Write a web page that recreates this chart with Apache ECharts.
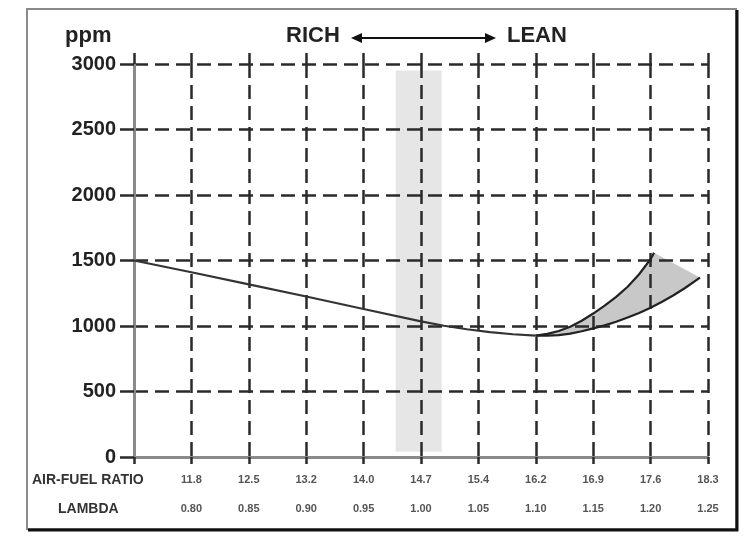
<!DOCTYPE html>
<html><head><meta charset="utf-8">
<script src="https://cdn.jsdelivr.net/npm/echarts@6/dist/echarts.min.js"></script>
<style>html,body{margin:0;padding:0;background:#fff}#c{width:750px;height:550px}</style>
</head><body><div id="c"></div>
<script>
// Tick labels
const lambdaTicks = [0.80, 0.85, 0.90, 0.95, 1.00, 1.05, 1.10, 1.15, 1.20, 1.25];
const afrLabels = ['11.8', '12.5', '13.2', '14.0', '14.7', '15.4', '16.2', '16.9', '17.6', '18.3'];
const lambdaLabels = ['0.80', '0.85', '0.90', '0.95', '1.00', '1.05', '1.10', '1.15', '1.20', '1.25'];
const yTicks = [0, 500, 1000, 1500, 2000, 2500, 3000];

// Series (lambda, ppm)
const mainLine = [[0.75, 1500], [0.80, 1410], [0.85, 1318], [0.90, 1225], [0.95, 1130], [1.00, 1035], [1.02, 1002], [1.04, 975], [1.06, 953], [1.08, 937], [1.10, 926]];
const upperBranch = [[1.10, 926], [1.11, 940], [1.12, 962], [1.13, 995], [1.14, 1040], [1.15, 1095], [1.16, 1155], [1.17, 1222], [1.18, 1300], [1.19, 1395], [1.20, 1510], [1.203, 1560]];
const lowerBranch = [[1.10, 926], [1.11, 926], [1.12, 930], [1.13, 942], [1.14, 960], [1.15, 982], [1.16, 1005], [1.17, 1033], [1.18, 1065], [1.19, 1100], [1.20, 1140], [1.21, 1185], [1.22, 1235], [1.23, 1290], [1.243, 1370]];
const stoichBand = [0.978, 1.018];
const bandPpm = [40, 2950];

const FONT = '"Liberation Sans", Arial, sans-serif';
const dash = { type: [14, 7], color: '#2a2a2a', width: 2.5 };

const chart = echarts.init(document.getElementById('c'), null, { renderer: 'canvas' });
const shadePoly = upperBranch.concat(lowerBranch.slice().reverse());

chart.setOption({
  animation: false,
  backgroundColor: '#fff',
  grid: { left: 134, right: 42, top: 64, bottom: 93 },
  xAxis: [{
    type: 'value', min: 0.75, max: 1.25, interval: 0.05, z: 4,
    axisLine: { lineStyle: { color: '#8a8a8a', width: 3 } },
    axisTick: { show: true, length: 7, lineStyle: { color: '#2a2a2a', width: 2.5 } },
    splitLine: { show: true, lineStyle: dash },
    axisLabel: {
      margin: 8,
      formatter: function (v) {
        const i = lambdaTicks.findIndex(t => Math.abs(t - v) < 1e-6);
        if (i < 0) return '';
        return '{a|' + afrLabels[i] + '}\n{b|' + lambdaLabels[i] + '}';
      },
      rich: {
        a: { fontFamily: FONT, fontSize: 11, fontWeight: 'bold', color: '#555', lineHeight: 29 },
        b: { fontFamily: FONT, fontSize: 11, fontWeight: 'bold', color: '#555', lineHeight: 29 }
      }
    }
  }, {
    type: 'value', position: 'top', min: 0.75, max: 1.25, interval: 0.05, z: 4,
    axisLine: { show: false },
    axisTick: { show: true, length: 11, lineStyle: { color: '#2a2a2a', width: 2.5 } },
    axisLabel: { show: false }, splitLine: { show: false }
  }],
  yAxis: {
    type: 'value', min: 0, max: 3000, interval: 500, z: 4,
    axisLine: { show: true, lineStyle: { color: '#8a8a8a', width: 3 } },
    axisTick: { show: true, length: 14, lineStyle: { color: '#2a2a2a', width: 2.5 } },
    splitLine: { show: true, lineStyle: dash },
    axisLabel: {
      margin: 18, fontFamily: FONT, fontSize: 20, fontWeight: 'bold', color: '#222',
      formatter: function (v) { return yTicks.indexOf(v) >= 0 ? String(v) : ''; }
    }
  },
  series: [
    {
      type: 'line', data: [], silent: true, z: 0,
      markArea: {
        silent: true,
        itemStyle: { color: '#e6e6e6' },
        data: [[{ xAxis: stoichBand[0], yAxis: bandPpm[0] }, { xAxis: stoichBand[1], yAxis: bandPpm[1] }]]
      }
    },
    {
      type: 'custom', data: [0], silent: true, z: 1,
      renderItem: function (params, api) {
        const pts = shadePoly.map(p => api.coord(p));
        return { type: 'polygon', shape: { points: pts }, style: { fill: '#c8c8c8' } };
      }
    },
    { type: 'line', data: mainLine, showSymbol: false, lineStyle: { color: '#333', width: 2.2 }, z: 6 },
    { type: 'line', data: upperBranch, showSymbol: false, lineStyle: { color: '#222', width: 2.2 }, z: 6 },
    { type: 'line', data: lowerBranch, showSymbol: false, lineStyle: { color: '#222', width: 2.2 }, z: 6 }
  ],
  graphic: [
    { type: 'rect', shape: { x: 27, y: 9, width: 709, height: 520 }, style: { fill: 'none', stroke: '#8a8a8a', lineWidth: 2 }, z: 10 },
    { type: 'polyline', shape: { points: [[737, 10], [737, 530], [28, 530]] }, style: { fill: 'none', stroke: '#111', lineWidth: 3 }, z: 11 },
    { type: 'text', left: 65, top: 25, style: { text: 'ppm', font: 'bold 22px ' + FONT, fill: '#222' }, z: 10 },
    { type: 'text', left: 286, top: 25, style: { text: 'RICH', font: 'bold 22px ' + FONT, fill: '#222' }, z: 10 },
    { type: 'text', left: 507, top: 25, style: { text: 'LEAN', font: 'bold 22px ' + FONT, fill: '#222' }, z: 10 },
    { type: 'line', shape: { x1: 356, y1: 38, x2: 490, y2: 38 }, style: { stroke: '#111', lineWidth: 2 }, z: 10 },
    { type: 'polygon', shape: { points: [[351, 38], [362, 33], [362, 43]] }, style: { fill: '#111' }, z: 10 },
    { type: 'polygon', shape: { points: [[496, 38], [485, 33], [485, 43]] }, style: { fill: '#111' }, z: 10 },
    { type: 'text', left: 32, top: 473, style: { text: 'AIR-FUEL RATIO', font: 'bold 14px ' + FONT, fill: '#333' }, z: 10 },
    { type: 'text', left: 58, top: 502, style: { text: 'LAMBDA', font: 'bold 14px ' + FONT, fill: '#333' }, z: 10 }
  ]
});
</script></body></html>
